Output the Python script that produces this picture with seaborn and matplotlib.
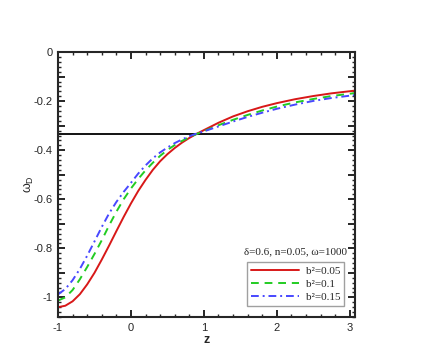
import numpy as np
import pandas as pd
import matplotlib
matplotlib.use("Agg")
import matplotlib.pyplot as plt
from matplotlib.ticker import MultipleLocator, FuncFormatter
import seaborn as sns

# Data
z = [-1.0, -0.9, -0.8, -0.7, -0.6, -0.5, -0.4, -0.3, -0.2, -0.1, 0.0,
     0.1, 0.2, 0.3, 0.4, 0.5, 0.6, 0.7, 0.8, 0.9, 1.0,
     1.2, 1.4, 1.6, 1.8, 2.0, 2.25, 2.5, 2.75, 3.07]
w_b005 = [-1.040, -1.034, -1.016, -0.987, -0.947, -0.900, -0.846, -0.789, -0.730,
          -0.672, -0.617, -0.566, -0.521, -0.480, -0.445, -0.416, -0.391, -0.369,
          -0.350, -0.333, -0.318, -0.288, -0.262, -0.241, -0.223, -0.208, -0.192,
          -0.179, -0.168, -0.157]
w_b01 = [-1.013, -1.000, -0.970, -0.926, -0.876, -0.823, -0.767, -0.707, -0.651,
         -0.600, -0.556, -0.517, -0.482, -0.451, -0.423, -0.399, -0.379, -0.362,
         -0.347, -0.334, -0.322, -0.298, -0.276, -0.256, -0.238, -0.222, -0.205,
         -0.191, -0.179, -0.167]
w_b015 = [-0.988, -0.966, -0.930, -0.884, -0.830, -0.772, -0.713, -0.658, -0.611,
          -0.570, -0.533, -0.495, -0.462, -0.433, -0.409, -0.389, -0.371, -0.356,
          -0.343, -0.332, -0.323, -0.303, -0.283, -0.264, -0.247, -0.231, -0.214,
          -0.199, -0.187, -0.175]
labels = ["b\u00b2=0.05", "b\u00b2=0.1", "b\u00b2=0.15"]
ref_level = -0.333

df = pd.DataFrame({
    "z": z * 3,
    "w": w_b005 + w_b01 + w_b015,
    "case": [labels[0]] * len(z) + [labels[1]] * len(z) + [labels[2]] * len(z),
})

sns.set_style("ticks")
plt.rcParams["font.family"] = ["Liberation Sans", "DejaVu Sans"]

fig = plt.figure(figsize=(4.36, 3.57), dpi=100)
ax = fig.add_axes([0.133, 0.112, 0.681, 0.742])

palette = {labels[0]: "#d81818", labels[1]: "#22cc22", labels[2]: "#4848ff"}
dashes = {labels[0]: "", labels[1]: (4, 3), labels[2]: (4, 2, 1, 2)}
sns.lineplot(data=df, x="z", y="w", hue="case", style="case",
             palette=palette, dashes=dashes, linewidth=1.4, ax=ax)

# reference level
ax.axhline(ref_level, color="black", linewidth=1.3, zorder=1)

ax.set_xlim(-1, 3.07)
ax.set_ylim(-1.08, 0)

ax.xaxis.set_major_locator(MultipleLocator(1))
ax.xaxis.set_minor_locator(MultipleLocator(0.2))
ax.yaxis.set_major_locator(MultipleLocator(0.1))
ax.yaxis.set_minor_locator(MultipleLocator(0.02))

def yfmt(v, pos):
    k = int(round(v * 10))
    if k % 2 != 0:
        return ""
    if k == 0:
        return "0"
    if k % 10 == 0:
        return "%d" % (k // 10)
    return "%g" % (k / 10)

ax.yaxis.set_major_formatter(FuncFormatter(yfmt))
ax.xaxis.set_major_formatter(FuncFormatter(lambda v, p: "%d" % round(v)))

ax.tick_params(which="both", direction="in", top=True, right=True,
               labelsize=8, width=1.0, pad=4)
ax.tick_params(which="major", length=5, width=1.4)
ax.tick_params(which="minor", length=2.5)
for s in ax.spines.values():
    s.set_linewidth(1.5)

ax.set_xlabel("z", fontsize=9, fontweight="bold", labelpad=1)
ax.set_ylabel(r"$\mathregular{\omega_D}$", fontsize=9)
ax.yaxis.set_label_coords(-0.075, 0.5)

leg = ax.legend(loc="lower right", bbox_to_anchor=(0.963, 0.0415),
                borderaxespad=0, frameon=True, fancybox=False,
                handlelength=4.3, handletextpad=0.6, labelspacing=0.3,
                borderpad=0.35,
                prop={"family": "Liberation Serif", "size": 8})
leg.get_frame().set_edgecolor("#888888")
leg.get_frame().set_linewidth(1.0)

ax.text(0.80, 0.245, "\u03b4=0.6, n=0.05, \u03c9=1000", transform=ax.transAxes,
        ha="center", va="center", fontsize=8, family="Liberation Serif")

fig.savefig("out.png", dpi=100)
